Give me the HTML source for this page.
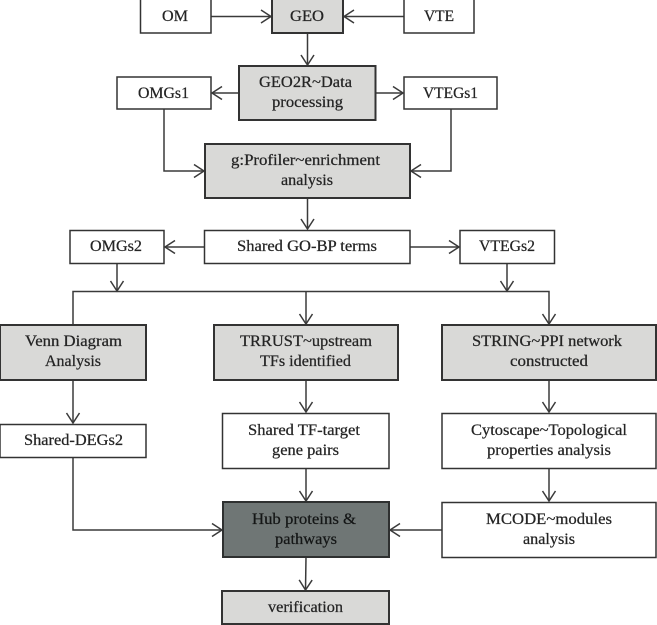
<!DOCTYPE html>
<html>
<head>
<meta charset="utf-8">
<style>
html,body{margin:0;padding:0;background:#fff;width:657px;height:625px;overflow:hidden}
svg{display:block}
text{font-family:"Liberation Serif",serif;font-size:16px;fill:#242424;stroke:#242424;stroke-width:.25;text-anchor:start}
.w{fill:#fff;stroke:#333;stroke-width:1.5}
.g{fill:#d9d9d7;stroke:#333;stroke-width:2}
.h{fill:#6f7675;stroke:#2e3030;stroke-width:2}
.l{fill:none;stroke:#3a3a3a;stroke-width:1.5}
.d text{fill:#141616;stroke:#141616}
</style>
</head>
<body>
<svg width="657" height="625" viewBox="0 0 657 625" xmlns="http://www.w3.org/2000/svg">
<defs>
<marker id="a" markerUnits="userSpaceOnUse" markerWidth="14" markerHeight="16" refX="12.5" refY="8" orient="auto">
<path d="M2.5 1.5 L12.5 8 L2.5 14.5" fill="none" stroke="#3a3a3a" stroke-width="1.5"/>
</marker>
</defs>

<!-- connectors -->
<g class="l">
<path d="M211 16.5H271" marker-end="url(#a)"/>
<path d="M404 16.5H344" marker-end="url(#a)"/>
<path d="M307.5 33V65" marker-end="url(#a)"/>
<path d="M239 93H212" marker-end="url(#a)"/>
<path d="M375 93H403" marker-end="url(#a)"/>
<path d="M164 109V171H204" marker-end="url(#a)"/>
<path d="M451 109V171H411" marker-end="url(#a)"/>
<path d="M307.5 198V229" marker-end="url(#a)"/>
<path d="M204 247H165" marker-end="url(#a)"/>
<path d="M410 247H459" marker-end="url(#a)"/>
<path d="M117 263V291" marker-end="url(#a)"/>
<path d="M507 263V291" marker-end="url(#a)"/>
<path d="M73 324V291.500H549V324" marker-end="url(#a)"/>
<path d="M306 291.500V324" marker-end="url(#a)"/>
<path d="M73 380V423" marker-end="url(#a)"/>
<path d="M306 380V412" marker-end="url(#a)"/>
<path d="M549 380V412" marker-end="url(#a)"/>
<path d="M306 468V501" marker-end="url(#a)"/>
<path d="M549 468V501" marker-end="url(#a)"/>
<path d="M73 457V530H222" marker-end="url(#a)"/>
<path d="M442 530H390" marker-end="url(#a)"/>
<path d="M306 557L305.500 590" marker-end="url(#a)"/>
</g>

<!-- boxes -->
<rect class="w" x="140.500" y="-2" width="70.500" height="35"/>
<rect class="g" x="272" y="-2" width="71" height="35"/>
<rect class="w" x="404" y="-2" width="70" height="35"/>
<rect class="g" x="239" y="66" width="136.500" height="54"/>
<rect class="w" x="117" y="77" width="94" height="32"/>
<rect class="w" x="404" y="77" width="93" height="32"/>
<rect class="g" x="205" y="144" width="205" height="54"/>
<rect class="w" x="204.500" y="230.500" width="205.500" height="33"/>
<rect class="w" x="70" y="230.500" width="94" height="33"/>
<rect class="w" x="460" y="230.500" width="94.500" height="33"/>
<rect class="g" x="0" y="325" width="146" height="55"/>
<rect class="g" x="214" y="325" width="184" height="55"/>
<rect class="g" x="442" y="325" width="214" height="55"/>
<rect class="w" x="0" y="424.500" width="146" height="33"/>
<rect class="w" x="222.500" y="413.500" width="166.500" height="55"/>
<rect class="w" x="442" y="413.500" width="214" height="55"/>
<rect class="h" x="223" y="502" width="166" height="55"/>
<rect class="w" x="442" y="502.500" width="214" height="55"/>
<rect class="g" x="222" y="591" width="167" height="33"/>

<!-- labels -->
<text x="162" y="21" textLength="26" lengthAdjust="spacingAndGlyphs">OM</text>
<text x="290" y="21" textLength="34" lengthAdjust="spacingAndGlyphs">GEO</text>
<text x="424" y="21" textLength="30" lengthAdjust="spacingAndGlyphs">VTE</text>
<text x="259" y="87" textLength="93" lengthAdjust="spacingAndGlyphs">GEO2R~Data</text>
<text x="272" y="107" textLength="71" lengthAdjust="spacingAndGlyphs">processing</text>
<text x="138" y="98" textLength="51" lengthAdjust="spacingAndGlyphs">OMGs1</text>
<text x="423" y="98" textLength="55" lengthAdjust="spacingAndGlyphs">VTEGs1</text>
<text x="231" y="165" textLength="149" lengthAdjust="spacingAndGlyphs">g:Profiler~enrichment</text>
<text x="281" y="185" textLength="52" lengthAdjust="spacingAndGlyphs">analysis</text>
<text x="237" y="251" textLength="140" lengthAdjust="spacingAndGlyphs">Shared GO-BP terms</text>
<text x="90" y="251" textLength="52" lengthAdjust="spacingAndGlyphs">OMGs2</text>
<text x="479" y="251" textLength="56" lengthAdjust="spacingAndGlyphs">VTEGs2</text>
<text x="25" y="346" textLength="97" lengthAdjust="spacingAndGlyphs">Venn Diagram</text>
<text x="45" y="366" textLength="56" lengthAdjust="spacingAndGlyphs">Analysis</text>
<text x="240" y="346" textLength="132" lengthAdjust="spacingAndGlyphs">TRRUST~upstream</text>
<text x="260" y="366" textLength="91" lengthAdjust="spacingAndGlyphs">TFs identified</text>
<text x="472" y="346" textLength="150" lengthAdjust="spacingAndGlyphs">STRING~PPI network</text>
<text x="510" y="366" textLength="78" lengthAdjust="spacingAndGlyphs">constructed</text>
<text x="24" y="445" textLength="99" lengthAdjust="spacingAndGlyphs">Shared-DEGs2</text>
<text x="248" y="435" textLength="112" lengthAdjust="spacingAndGlyphs">Shared TF-target</text>
<text x="272" y="455" textLength="67" lengthAdjust="spacingAndGlyphs">gene pairs</text>
<text x="471" y="435" textLength="156" lengthAdjust="spacingAndGlyphs">Cytoscape~Topological</text>
<text x="487" y="455" textLength="124" lengthAdjust="spacingAndGlyphs">properties analysis</text>
<g class="d">
<text x="252" y="524" textLength="104" lengthAdjust="spacingAndGlyphs">Hub proteins &amp;</text>
<text x="275" y="544" textLength="62" lengthAdjust="spacingAndGlyphs">pathways</text>
</g>
<text x="486" y="524" textLength="126" lengthAdjust="spacingAndGlyphs">MCODE~modules</text>
<text x="523" y="544" textLength="52" lengthAdjust="spacingAndGlyphs">analysis</text>
<text x="268" y="612" textLength="75" lengthAdjust="spacingAndGlyphs">verification</text>
</svg>
</body>
</html>
